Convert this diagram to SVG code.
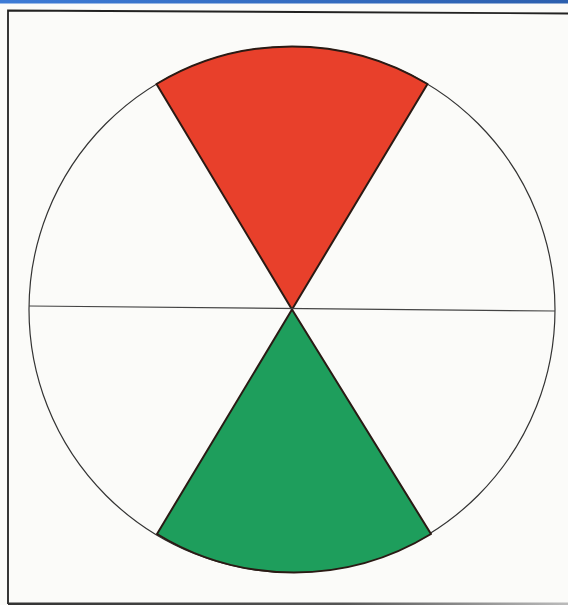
<svg xmlns="http://www.w3.org/2000/svg" width="568" height="605" viewBox="0 0 568 605">
<defs>
<linearGradient id="bar" x1="0" y1="0" x2="1" y2="0">
<stop offset="0" stop-color="#3d7bd6"/>
<stop offset="1" stop-color="#2c5fae"/>
</linearGradient>
<linearGradient id="bot" x1="0" y1="0" x2="1" y2="0">
<stop offset="0" stop-color="#333"/>
<stop offset="0.6" stop-color="#555"/>
<stop offset="1" stop-color="#bbb"/>
</linearGradient>
</defs>
<style>
.sec{stroke:#2a1a14;stroke-width:2;stroke-linejoin:round}
.thin{fill:none;stroke:#333;stroke-width:1.2}
</style>
<rect width="568" height="605" fill="#fbfbf9"/>
<rect x="0" y="0" width="568" height="3.5" fill="url(#bar)"/>
<path d="M8,604 L8,10.5 L300,12 L568,13.5" fill="none" stroke="#222" stroke-width="1.8"/>
<rect x="8" y="602.5" width="560" height="2.5" fill="url(#bot)"/>
<g id="circle">
<circle cx="292" cy="309.5" r="263" class="thin"/>
</g>
<g id="red">
<path class="sec" fill="#e8402b" d="M292,309.5 L156.5,84 A263,263 0 0 1 427.5,84 Z"/>
</g>
<g id="green">
<path class="sec" fill="#1e9e5c" d="M292,309.5 L431,534 A263,263 0 0 1 157,534 Z"/>
</g>
<g id="connectors">
<line x1="29" y1="306" x2="555" y2="311" stroke="#444" stroke-width="1.2"/>
</g>
</svg>
